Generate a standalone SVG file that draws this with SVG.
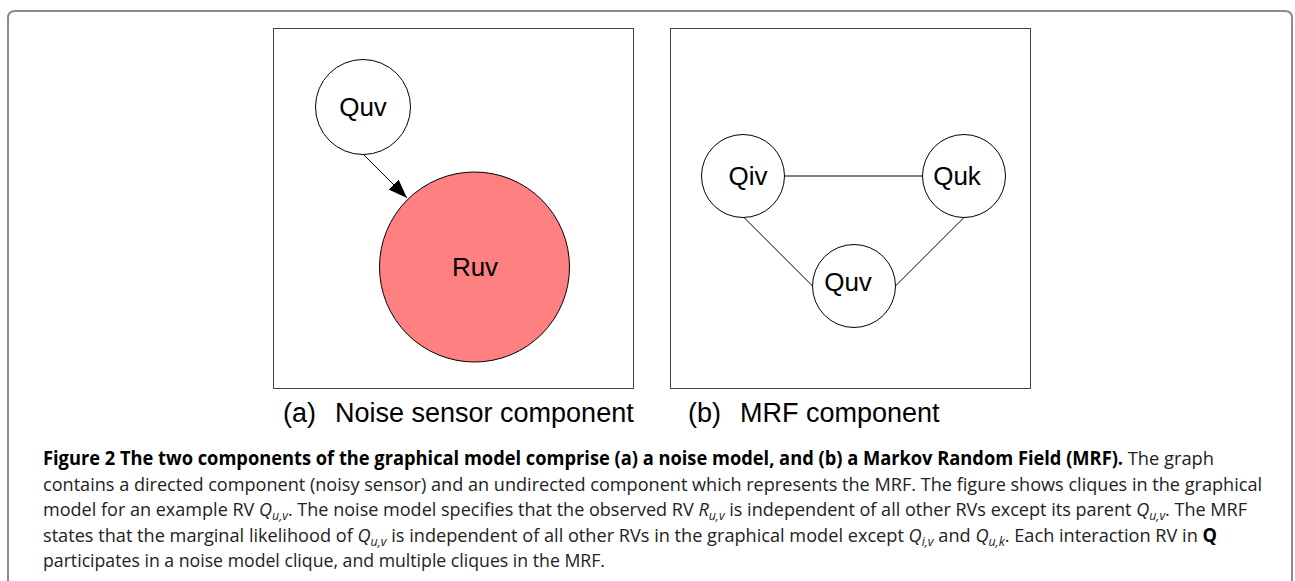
<svg xmlns="http://www.w3.org/2000/svg" width="1295" height="581" viewBox="0 0 1295 581">
  <style>
    .frame { fill: none; stroke: #8c8c8c; stroke-width: 2; }
    .panel { fill: #ffffff; stroke: #444444; stroke-width: 1; }
    .node { fill: #ffffff; stroke: #000000; stroke-width: 1; }
    .obs { fill: #ff8080; stroke: #000000; stroke-width: 1; }
    .edge { stroke: #000000; stroke-width: 1; fill: none; }
    .nlabel { font-family: "Liberation Sans", Arial, sans-serif; font-size: 26px; fill: #000000; text-anchor: middle; }
    .plabel { font-family: "Liberation Sans", Arial, sans-serif; font-size: 27px; fill: #000000; }
    .cap { font-family: "Open Sans", "Noto Sans", sans-serif; font-size: 19px; fill: #222222; }
    .b { font-weight: bold; fill: #000000; }
    .i { font-style: italic; }
    .sub { font-style: italic; font-size: 13px; }
  </style>
  <defs>
    <marker id="arrow" markerWidth="20" markerHeight="16" refX="19" refY="8" orient="auto" markerUnits="userSpaceOnUse">
      <path d="M0,1 L19,8 L0,15 z" fill="#000000"/>
    </marker>
  </defs>

  <rect width="1295" height="581" fill="#ffffff"/>

  <!-- outer figure frame (open at the bottom) -->
  <path class="frame" d="M8,590 L8,18 Q8,11 15,11 L1285,11 Q1292,11 1292,18 L1292,590"/>

  <!-- panel boxes -->
  <rect id="panel-a" class="panel" x="273.5" y="28.5" width="360" height="360"/>
  <rect id="panel-b" class="panel" x="670.5" y="28.5" width="360" height="360"/>

  <!-- connectors -->
  <g id="connectors">
    <line class="edge" x1="364" y1="155" x2="407" y2="198" marker-end="url(#arrow)"/>
    <line class="edge" x1="784.5" y1="176" x2="922.5" y2="176"/>
    <line class="edge" x1="744" y1="217.5" x2="812.5" y2="286"/>
    <line class="edge" x1="964" y1="217.5" x2="895.5" y2="286"/>
  </g>

  <!-- noise sensor component -->
  <g id="node-a-quv">
    <circle class="node" cx="363" cy="107" r="47.5"/>
    <text class="nlabel" x="363" y="116">Quv</text>
  </g>
  <g id="node-a-ruv">
    <circle class="obs" cx="474.5" cy="267" r="95"/>
    <text class="nlabel" x="475" y="276">Ruv</text>
  </g>

  <!-- MRF component -->
  <g id="node-b-qiv">
    <circle class="node" cx="743" cy="176" r="41.5"/>
    <text class="nlabel" x="748" y="185">Qiv</text>
  </g>
  <g id="node-b-quk">
    <circle class="node" cx="964" cy="176" r="41.5"/>
    <text class="nlabel" x="957" y="185">Quk</text>
  </g>
  <g id="node-b-quv">
    <circle class="node" cx="854" cy="286" r="41.5"/>
    <text class="nlabel" x="848" y="291">Quv</text>
  </g>

  <!-- panel captions -->
  <g id="panel-captions">
    <text class="plabel" x="283" y="422">(a)</text>
    <text class="plabel" x="335" y="422">Noise sensor component</text>
    <text class="plabel" x="688" y="422">(b)</text>
    <text class="plabel" x="740" y="422">MRF component</text>
  </g>

  <!-- figure legend -->
  <g id="legend">
    <text class="cap" x="43" y="465" textLength="1171" lengthAdjust="spacingAndGlyphs"><tspan class="b">Figure 2 The two components of the graphical model comprise (a) a noise model, and (b) a Markov Random Field (MRF).</tspan> The graph</text>
    <text class="cap" x="43" y="490.5" textLength="1219" lengthAdjust="spacingAndGlyphs">contains a directed component (noisy sensor) and an undirected component which represents the MRF. The figure shows cliques in the graphical</text>
    <text class="cap" x="43" y="516" textLength="1204" lengthAdjust="spacingAndGlyphs">model for an example RV <tspan class="i">Q</tspan><tspan class="sub" dy="4">u,v</tspan><tspan dy="-4">. The noise model specifies that the observed RV </tspan><tspan class="i">R</tspan><tspan class="sub" dy="4">u,v</tspan><tspan dy="-4"> is independent of all other RVs except its parent </tspan><tspan class="i">Q</tspan><tspan class="sub" dy="4">u,v</tspan><tspan dy="-4">. The MRF</tspan></text>
    <text class="cap" x="43" y="541.5" textLength="1174" lengthAdjust="spacingAndGlyphs">states that the marginal likelihood of <tspan class="i">Q</tspan><tspan class="sub" dy="4">u,v</tspan><tspan dy="-4"> is independent of all other RVs in the graphical model except </tspan><tspan class="i">Q</tspan><tspan class="sub" dy="4">i,v</tspan><tspan dy="-4"> and </tspan><tspan class="i">Q</tspan><tspan class="sub" dy="4">u,k</tspan><tspan dy="-4">. Each interaction RV in </tspan><tspan class="b">Q</tspan></text>
    <text class="cap" x="43" y="567" textLength="562" lengthAdjust="spacingAndGlyphs">participates in a noise model clique, and multiple cliques in the MRF.</text>
  </g>
</svg>
